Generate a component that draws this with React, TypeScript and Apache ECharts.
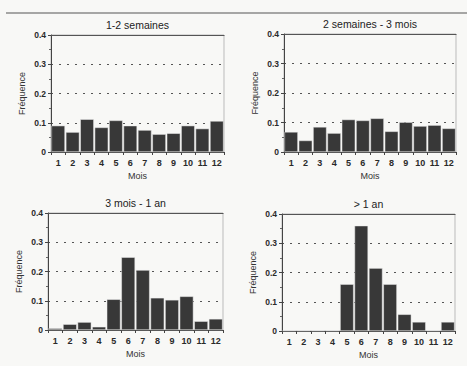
import React, { useEffect, useRef } from "react";
import * as echarts from "echarts";

const months = ["1", "2", "3", "4", "5", "6", "7", "8", "9", "10", "11", "12"];
const titles = ["1-2 semaines", "2 semaines - 3 mois", "3 mois - 1 an", "> 1 an"];
const yTicks = [0, 0.1, 0.2, 0.3, 0.4];

const freqWeeks = [0.09, 0.068, 0.112, 0.084, 0.108, 0.09, 0.075, 0.061, 0.064, 0.09, 0.08, 0.106];
const freqMonths = [0.068, 0.039, 0.085, 0.064, 0.11, 0.107, 0.114, 0.07, 0.101, 0.088, 0.091, 0.08];
const freqYear = [0.006, 0.02, 0.027, 0.011, 0.105, 0.249, 0.205, 0.11, 0.103, 0.115, 0.03, 0.038];
const freqOver = [0.002, 0.002, 0.002, 0.002, 0.16, 0.36, 0.215, 0.16, 0.057, 0.031, 0.002, 0.031];

const seriesData = [freqWeeks, freqMonths, freqYear, freqOver];

const grids = [
  { left: 51, top: 35, width: 173, height: 117 },
  { left: 284, top: 34, width: 172, height: 118 },
  { left: 48, top: 213, width: 175, height: 117 },
  { left: 282, top: 214, width: 173, height: 117 },
];

const FONT = "Liberation Sans, Arial, sans-serif";

export default function App() {
  const ref = useRef<HTMLDivElement>(null);
  useEffect(() => {
    if (!ref.current) return;
    const chart = echarts.init(ref.current, undefined, { renderer: "svg" });
    const xAxes: any[] = [];
    const yAxes: any[] = [];
    const series: any[] = [];
    const graphics: any[] = [
      {
        type: "line",
        shape: { x1: 6, y1: 13, x2: 467, y2: 13 },
        style: { stroke: "#555", lineWidth: 1.2 },
      },
    ];
    grids.forEach((g, i) => {
      xAxes.push({
        type: "category",
        gridIndex: i,
        data: months,
        boundaryGap: true,
        axisLine: { lineStyle: { color: "#444", width: 1 } },
        axisTick: { show: true, length: 3, lineStyle: { color: "#444" } },
        axisLabel: { color: "#2a2a2a", fontSize: 9, fontFamily: FONT, fontWeight: "bold", margin: 6 },
        name: "Mois",
        nameLocation: "middle",
        nameGap: 19,
        nameTextStyle: { color: "#333", fontSize: 9, fontFamily: FONT },
      });
      xAxes.push({
        type: "category",
        gridIndex: i,
        position: "top",
        data: months,
        axisLine: { show: true, lineStyle: { color: "#555", width: 1.2 } },
        axisTick: { show: false },
        axisLabel: { show: false },
      });
      yAxes.push({
        type: "value",
        gridIndex: i,
        min: 0,
        max: 0.4,
        interval: 0.1,
        axisLine: { show: true, lineStyle: { color: "#444" } },
        axisTick: { show: true, length: 3, lineStyle: { color: "#444" } },
        minorTick: { show: true, splitNumber: 2, length: 2, lineStyle: { color: "#666" } },
        axisLabel: {
          color: "#2a2a2a",
          fontSize: 8.5,
          fontFamily: FONT,
          fontWeight: "bold",
          margin: 5,
          formatter: (v: number) => {
            const t = yTicks.find((x) => Math.abs(x - v) < 1e-9);
            return t === 0 ? "0" : String(Math.round(v * 10) / 10);
          },
        },
        splitLine: {
          show: true,
          lineStyle: { color: "#555", type: [2, 6], width: 1 },
        },
        name: "Fréquence",
        nameLocation: "middle",
        nameGap: 25,
        nameTextStyle: { color: "#333", fontSize: 9, fontFamily: FONT },
      });
      series.push({
        type: "bar",
        xAxisIndex: i * 2,
        yAxisIndex: i,
        data: seriesData[i],
        barCategoryGap: "6%",
        itemStyle: { color: "#383838", borderColor: "#eee", borderWidth: 0.5 },
      });
      graphics.push({
        type: "text",
        x: g.left + g.width / 2,
        y: g.top - 10,
        style: {
          text: titles[i],
          fill: "#222",
          font: `10.5px ${FONT}`,
          textAlign: "center",
          textVerticalAlign: "middle",
        },
      });
    });
    chart.setOption({
      animation: false,
      backgroundColor: "#f8f8f6",
      grid: grids.map((g) => ({ ...g, show: true, borderColor: "#bbb", borderWidth: 1, backgroundColor: "transparent" })),
      xAxis: xAxes,
      yAxis: yAxes,
      series,
      graphic: graphics,
    });
    return () => chart.dispose();
  }, []);
  return (
    <div
      ref={ref}
      style={{ position: "fixed", left: 0, top: 0, width: 467, height: 366 }}
    />
  );
}
